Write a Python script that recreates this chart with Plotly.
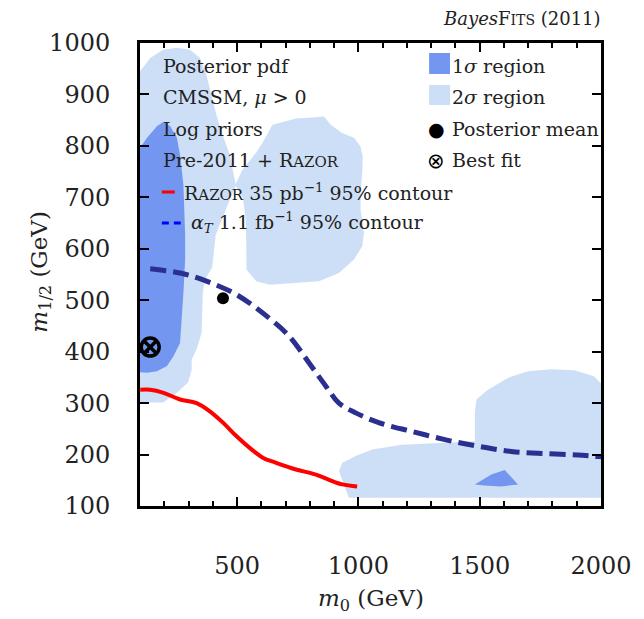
import plotly.graph_objects as go

# ---------------- data (GeV) ----------------
# 2-sigma region, left + middle lobes (one outline touching at the notch)
sig2_left_x = [100, 142, 195, 253, 306, 347, 374, 395, 415, 441, 470, 494,
               523, 579, 605, 646, 743, 810, 859, 886, 933, 982, 1009, 1018, 1016,
               1009, 1009, 1023, 1016, 982, 920, 838, 756, 634, 579, 539, 538, 535,
               524, 494, 456, 412, 397, 367, 359, 358, 354, 333, 313, 313, 298,
               252, 195, 109, 100]
sig2_left_y = [945, 971, 987, 991, 987, 971, 938, 899, 860, 821, 783, 726,
               754, 787, 806, 841, 853, 855, 857, 841, 825, 816, 799, 779, 748,
               709, 676, 631, 605, 579, 553, 537, 534, 530, 537, 559, 614, 660,
               699, 722, 679, 627, 563, 540, 515, 482, 437, 404, 385, 365, 340,
               320, 301, 301, 301]
# 2-sigma region, lower right
sig2_right_x = [961, 920, 934, 989, 1057, 1179, 1357, 1480, 1480, 1487, 1534, 1616,
                1698, 1794, 1890, 1971, 1998, 2000, 2000]
sig2_right_y = [116, 168, 184, 197, 210, 219, 223, 226, 282, 307, 326, 349,
                362, 366, 364, 352, 339, 339, 116]
# 1-sigma regions
sig1_left_x = [100, 129, 170, 197, 224, 252, 265, 279, 286, 286, 279, 272, 265,
               238, 211, 170, 129, 100]
sig1_left_y = [796, 816, 838, 847, 838, 816, 783, 724, 627, 579, 515, 462, 417,
               391, 372, 362, 359, 360]
sig1_small_x = [1480, 1548, 1603, 1658, 1589, 1521]
sig1_small_y = [142, 161, 170, 142, 138, 140]
# Razor 35 pb^-1 95% contour
razor_x = [101, 142, 197, 265, 333, 388, 442, 497, 552, 606, 661, 743, 825, 879, 934, 995]
razor_y = [326, 326, 320, 307, 300, 284, 262, 236, 213, 194, 184, 171, 161, 151, 142, 138]
# alpha_T 1.1 fb^-1 95% contour
alphat_x = [142, 265, 374, 497, 633, 715, 797, 866, 920, 989, 1084, 1220, 1357,
            1494, 1630, 1767, 1904, 1992, 2000]
alphat_y = [561, 553, 537, 511, 465, 430, 378, 333, 300, 281, 262, 245, 229,
            216, 206, 202, 199, 196, 196]
post_mean = (442, 504)
best_fit = (142, 409)

x_ticks = [500, 1000, 1500, 2000]
y_ticks = [100, 200, 300, 400, 500, 600, 700, 800, 900, 1000]

C1 = "#7396f0"
C2 = "#cddff6"
NAVY = "#2b3090"
FONT = "DejaVu Serif"

fig = go.Figure()
for xs, ys, c in [(sig2_left_x, sig2_left_y, C2), (sig2_right_x, sig2_right_y, C2),
                  (sig1_left_x, sig1_left_y, C1), (sig1_small_x, sig1_small_y, C1)]:
    fig.add_trace(go.Scatter(x=xs, y=ys, fill="toself", fillcolor=c, mode="lines",
                             line=dict(width=0, color=c), hoverinfo="skip", showlegend=False))

fig.add_trace(go.Scatter(x=razor_x, y=razor_y, mode="lines", line=dict(color="#ff0000", width=4, shape="spline"),
                         showlegend=False))
fig.add_trace(go.Scatter(x=alphat_x, y=alphat_y, mode="lines",
                         line=dict(color=NAVY, width=5, shape="spline", dash="16px,7px"),
                         showlegend=False))
fig.add_trace(go.Scatter(x=[post_mean[0]], y=[post_mean[1]], mode="markers",
                         marker=dict(color="black", size=12), showlegend=False))
fig.add_trace(go.Scatter(x=[best_fit[0]], y=[best_fit[1]], mode="markers",
                         marker=dict(symbol="circle-x-open", color="black", size=18,
                                     line=dict(width=3.5, color="black")), showlegend=False))

# page body adds an 8px offset; size the figure so the plot box lands where the reference has it
OFF = 8
W, H = 644 - OFF, 619 - OFF
L, R, T, B = 132, 40, 35, 113
pw, ph = W - L - R, H - T - B


def pxx(x):
    return (x - OFF - L) / pw


def pxy(y):
    return (H - B - (y - OFF)) / ph


axis_common = dict(showline=True, linewidth=3, linecolor="black", mirror="allticks",
                   ticks="inside", tickwidth=2, tickcolor="black", ticklen=9,
                   showgrid=False, zeroline=False,
                   tickfont=dict(family=FONT, size=24, color="#222"))
fig.update_xaxes(range=[100, 2000], tickvals=x_ticks, ticklabelstandoff=36,
                 minor=dict(dtick=100, tick0=0, ticks="inside", ticklen=5, tickwidth=1.5,
                            tickcolor="black", showgrid=False),
                 **axis_common)
fig.update_yaxes(range=[100, 1000], tickvals=y_ticks, ticklabelstandoff=22, **axis_common)

SC = "<span style='font-size:15px'>AZOR</span>"
ann = []
left_lines = [
    (66, "Posterior pdf", 161),
    (97, "CMSSM, <i>μ</i> > 0", 161),
    (129, "Log priors", 161),
    (160, "Pre-2011 + R" + SC, 161),
    (192, "R" + SC + " 35 pb<sup>−1</sup> 95% contour", 182),
    (223, "<i>α<sub>T</sub></i> 1.1 fb<sup>−1</sup> 95% contour", 189),
]
for y, t, x in left_lines:
    ann.append(dict(x=pxx(x), y=pxy(y), xref="paper", yref="paper", text=t, showarrow=False,
                    xanchor="left", yanchor="middle", font=dict(family=FONT, size=19, color="#222")))
right_lines = [
    (66, "1<i>σ</i> region", 452),
    (97, "2<i>σ</i> region", 452),
    (129, "Posterior mean", 452),
    (160, "Best fit", 452),
]
for y, t, x in right_lines:
    ann.append(dict(x=pxx(x), y=pxy(y), xref="paper", yref="paper", text=t, showarrow=False,
                    xanchor="left", yanchor="middle", font=dict(family=FONT, size=19, color="#222")))
ann.append(dict(x=pxx(438), y=pxy(129), xref="paper", yref="paper", text="●", showarrow=False,
                xanchor="center", yanchor="middle", font=dict(family="DejaVu Sans", size=19, color="black")))
ann.append(dict(x=pxx(438), y=pxy(161), xref="paper", yref="paper", text="⊗", showarrow=False,
                xanchor="center", yanchor="middle", font=dict(family="DejaVu Sans", size=21, color="black")))
# title
ann.append(dict(x=pxx(606), y=pxy(18), xref="paper", yref="paper",
                text="<i>Bayes</i>F<span style='font-size:14px'>ITS</span> (2011)", showarrow=False,
                xanchor="right", yanchor="middle", font=dict(family=FONT, size=18, color="#222")))
# axis titles
ann.append(dict(x=pxx(372), y=pxy(600), xref="paper", yref="paper",
                text="<i>m</i><sub>0</sub> (GeV)", showarrow=False,
                xanchor="center", yanchor="middle", font=dict(family=FONT, size=23, color="#222")))
ann.append(dict(x=pxx(40), y=pxy(272), xref="paper", yref="paper",
                text="<i>m</i><sub>1/2</sub> (GeV)", showarrow=False, textangle=-90,
                xanchor="center", yanchor="middle", font=dict(family=FONT, size=23, color="#222")))

shapes = [
    dict(type="rect", xref="paper", yref="paper", x0=pxx(431), x1=pxx(452), y0=pxy(74), y1=pxy(53),
         fillcolor=C1, line=dict(width=0)),
    dict(type="rect", xref="paper", yref="paper", x0=pxx(431), x1=pxx(452), y0=pxy(105), y1=pxy(85),
         fillcolor=C2, line=dict(width=0)),
    dict(type="line", xref="paper", yref="paper", x0=pxx(162), x1=pxx(175), y0=pxy(192), y1=pxy(192),
         line=dict(color="#ff0000", width=3)),
    dict(type="line", xref="paper", yref="paper", x0=pxx(162), x1=pxx(181), y0=pxy(223), y1=pxy(223),
         line=dict(color="#0000ff", width=3, dash="7px,5px")),
]

fig.update_layout(width=W, height=H, margin=dict(l=L, r=R, t=T, b=B),
                  plot_bgcolor="white", paper_bgcolor="white",
                  annotations=ann, shapes=shapes, showlegend=False,
                  font=dict(family=FONT))
fig.write_html("out.html")
